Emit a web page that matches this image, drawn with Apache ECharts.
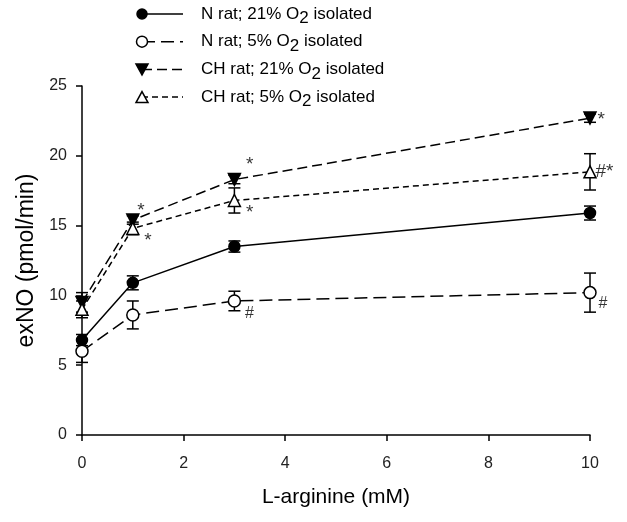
<!DOCTYPE html>
<html><head><meta charset="utf-8">
<script src="https://cdn.jsdelivr.net/npm/echarts@6/dist/echarts.min.js"></script>
<style>html,body{margin:0;padding:0;background:#fff}#c{width:627px;height:522px}</style>
</head><body><div id="c"></div>
<script>
// ---- data ----
const xValues = [0, 1, 3, 10];
const seriesNames = ['N rat; 21% O2 isolated', 'N rat; 5% O2 isolated', 'CH rat; 21% O2 isolated', 'CH rat; 5% O2 isolated'];
const n21 = [6.8, 10.9, 13.5, 15.9];
const n21Err = [0.4, 0.5, 0.4, 0.5];
const n5 = [6.0, 8.6, 9.6, 10.2];
const n5Err = [0.8, 1.0, 0.7, 1.4];
const ch21 = [9.5, 15.4, 18.3, 22.7];
const ch21Err = [0.7, 0.3, 0.3, 0.3];
const ch5 = [9.0, 14.8, 16.8, 18.85];
const ch5Err = [0.6, 0.45, 0.9, 1.3];
const yTicks = [0, 5, 10, 15, 20, 25];
const xTicks = [0, 2, 4, 6, 8, 10];
// annotations: [seriesIndex, pointIndex, text]
const annotations = [
  [2, 1, '*'], [3, 1, '*'],
  [2, 2, '*'], [3, 2, '*'], [1, 2, '#'],
  [2, 3, '*'], [3, 3, '#*'], [1, 3, '#']
];
// ---- styling (not data) ----
const annOffsets = [[5, -9], [12, 13], [12, -14], [12, 13], [11, 13], [8, 2], [6, 0], [9, 11]];
const FONT = '"Liberation Sans", Arial, sans-serif';
const allVals = [n21, n5, ch21, ch5];
const allErr = [n21Err, n5Err, ch21Err, ch5Err];
const styles = [
  {symbol: 'circle', size: 11, fill: '#000', dash: 'solid', rot: 0},
  {symbol: 'circle', size: 12, fill: '#fff', dash: [13, 6], rot: 0},
  {symbol: 'triangle', size: 12, fill: '#000', dash: [10, 5], rot: 180},
  {symbol: 'triangle', size: 12, fill: '#fff', dash: [6, 4], rot: 0}
];

const chart = echarts.init(document.getElementById('c'), null, {renderer: 'canvas'});
const series = [];
allVals.forEach((vals, si) => {
  const st = styles[si];
  series.push({
    type: 'custom', z: 1, silent: true,
    data: xValues.map((x, i) => [x, vals[i] - allErr[si][i], vals[i] + allErr[si][i]]),
    encode: {x: 0, y: [1, 2]},
    renderItem: (params, api) => {
      const x = api.value(0);
      const lo = api.coord([x, api.value(1)]);
      const hi = api.coord([x, api.value(2)]);
      const w = 6;
      const s = {stroke: '#000', lineWidth: 1.5};
      return {type: 'group', children: [
        {type: 'line', shape: {x1: hi[0], y1: hi[1], x2: lo[0], y2: lo[1]}, style: s},
        {type: 'line', shape: {x1: hi[0] - w, y1: hi[1], x2: hi[0] + w, y2: hi[1]}, style: s},
        {type: 'line', shape: {x1: lo[0] - w, y1: lo[1], x2: lo[0] + w, y2: lo[1]}, style: s}
      ]};
    }
  });
  series.push({
    type: 'line', z: 3, name: seriesNames[si],
    data: xValues.map((x, i) => [x, vals[i]]),
    symbol: st.symbol, symbolSize: st.size, symbolRotate: st.rot, showSymbol: true,
    lineStyle: {color: '#000', width: 1.5, type: st.dash},
    itemStyle: {color: st.fill, borderColor: '#000', borderWidth: 1.5, opacity: 1},
    animation: false
  });
});
series.push({
  type: 'scatter', z: 4, symbolSize: 1, silent: true,
  itemStyle: {color: 'transparent'},
  data: annotations.map((a, k) => ({
    value: [xValues[a[1]], allVals[a[0]][a[1]]],
    label: {show: true, formatter: a[2], position: annOffsets[k], align: 'left', verticalAlign: 'middle',
      color: '#000', fontFamily: FONT, fontSize: a[2] === '#' ? 16 : 19}
  }))
});

// custom legend graphics
const legendGraphics = [];
const legY0 = 14, legGap = 27.7;
seriesNames.forEach((name, si) => {
  const st = styles[si];
  const y = legY0 + si * legGap;
  legendGraphics.push({type: 'line', shape: {x1: 142, y1: y, x2: 183, y2: y},
    style: {stroke: '#000', lineWidth: 1.5, lineDash: st.dash === 'solid' ? null : st.dash}, z: 10});
  if (st.symbol === 'circle') {
    legendGraphics.push({type: 'circle', shape: {cx: 142, cy: y, r: st.size / 2 - 0.5},
      style: {fill: st.fill, stroke: '#000', lineWidth: 1.5}, z: 11});
  } else {
    const h = 5.5;
    const pts = st.rot === 180 ? [[136, y - h], [148, y - h], [142, y + h]] : [[142, y - h], [148, y + h], [136, y + h]];
    legendGraphics.push({type: 'polygon', shape: {points: pts},
      style: {fill: st.fill, stroke: '#000', lineWidth: 1.5}, z: 11});
  }
  legendGraphics.push({type: 'text', x: 201, y: y, z: 11,
    style: {text: name.replace('O2', 'O{sub|2}'), fill: '#000', font: '17px ' + FONT,
      verticalAlign: 'middle', rich: {sub: {fontSize: 17, fontFamily: FONT, padding: [9, 0, 0, 0], fill: '#000'}}}});
});

chart.setOption({
  animation: false,
  backgroundColor: '#fff',
  grid: {left: 82, right: 37, top: 86, bottom: 87},
  xAxis: {
    type: 'value', min: 0, max: 10, interval: 2,
    name: 'L-arginine (mM)', nameLocation: 'middle', nameGap: 52,
    nameTextStyle: {fontFamily: FONT, fontSize: 21, color: '#000'},
    axisLine: {lineStyle: {color: '#000', width: 1.5}},
    axisTick: {show: true, inside: false, length: 6, lineStyle: {color: '#000', width: 1.5}},
    axisLabel: {fontFamily: FONT, fontSize: 16, color: '#222', margin: 21},
    splitLine: {show: false}
  },
  yAxis: {
    type: 'value', min: 0, max: 25, interval: 5,
    name: 'exNO (pmol/min)', nameLocation: 'middle', nameGap: 43, nameRotate: 90,
    nameTextStyle: {fontFamily: FONT, fontSize: 23, color: '#000'},
    axisLine: {show: true, lineStyle: {color: '#000', width: 1.5}},
    axisTick: {show: true, inside: false, length: 6, lineStyle: {color: '#000', width: 1.5}},
    axisLabel: {fontFamily: FONT, fontSize: 16, color: '#222', margin: 15},
    splitLine: {show: false}
  },
  graphic: legendGraphics,
  series: series
});
</script></body></html>
